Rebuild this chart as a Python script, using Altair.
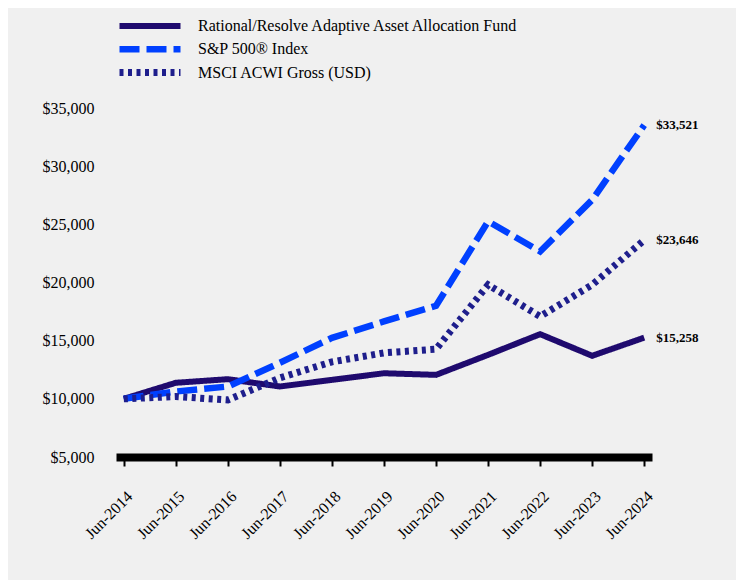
import altair as alt
import pandas as pd

years = ["Jun-2014", "Jun-2015", "Jun-2016", "Jun-2017", "Jun-2018", "Jun-2019",
         "Jun-2020", "Jun-2021", "Jun-2022", "Jun-2023", "Jun-2024"]
series_names = ["Rational/Resolve Adaptive Asset Allocation Fund",
                "S&P 500® Index",
                "MSCI ACWI Gross (USD)"]
fund = [10000, 11380, 11690, 11060, 11630, 12200, 12060, 13780, 15560, 13700, 15258]
sp500 = [10000, 10630, 11060, 13100, 15240, 16650, 18000, 25250, 22670, 27100, 33521]
msci = [10000, 10200, 9900, 11800, 13180, 13950, 14270, 19800, 17080, 19800, 23646]
y_ticks = [5000, 10000, 15000, 20000, 25000, 30000, 35000]

colors = ["#1f0a6e", "#0040ff", "#1e1e8c"]
dashes = [[1, 0], [20, 7], [4, 4.5]]
widths = [6, 7, 6]

rows = []
for name, vals in zip(series_names, [fund, sp500, msci]):
    for d, v in zip(years, vals):
        rows.append({"date": d, "value": v, "series": name})
df = pd.DataFrame(rows)

FONT = "Liberation Serif"

base = alt.Chart(df).encode(
    x=alt.X("date:O", sort=years,
            scale=alt.Scale(type="point", padding=0.15),
            axis=alt.Axis(title=None, labelAngle=-45, labelFont=FONT, labelFontSize=16,
                          labelColor="black", domainColor="black", domainWidth=8,
                          tickColor="black", tickWidth=2, tickSize=9, labelPadding=22,
                          grid=False)),
    y=alt.Y("value:Q", scale=alt.Scale(domain=[5000, 35000], nice=False, zero=False),
            axis=alt.Axis(title=None, values=y_ticks, format="$,.0f", domain=False,
                          ticks=False, grid=False, labelFont=FONT, labelFontSize=16,
                          labelColor="black", labelPadding=22)),
)

lines = base.mark_line(strokeCap="butt").encode(
    color=alt.Color("series:N", scale=alt.Scale(domain=series_names, range=colors),
                    legend=alt.Legend(title=None, orient="none", legendX=0, legendY=-90,
                                      symbolType="stroke", symbolSize=3721,
                                      labelFont=FONT, labelFontSize=16, labelColor="black",
                                      labelOffset=14, clipHeight=16, rowPadding=7.3,
                                      padding=0, labelLimit=600)),
    strokeDash=alt.StrokeDash("series:N", scale=alt.Scale(domain=series_names, range=dashes)),
    strokeWidth=alt.StrokeWidth("series:N", scale=alt.Scale(domain=series_names, range=widths)),
)

labels = base.transform_filter(alt.datum.date == "Jun-2024").mark_text(
    align="left", baseline="middle", dx=12, font=FONT, fontSize=13,
    fontWeight="bold", color="black"
).encode(text=alt.Text("value:Q", format="$,.0f"))

chart = alt.layer(lines, labels).properties(
    width=536, height=349,
    autosize=alt.AutoSizeParams(type="none"),
    padding={"left": 108, "top": 100, "right": 84, "bottom": 123},
    background="#f0f0f0",
).configure_view(stroke=None)

chart.save("out.html", embed_options={"renderer": "svg", "actions": False})
